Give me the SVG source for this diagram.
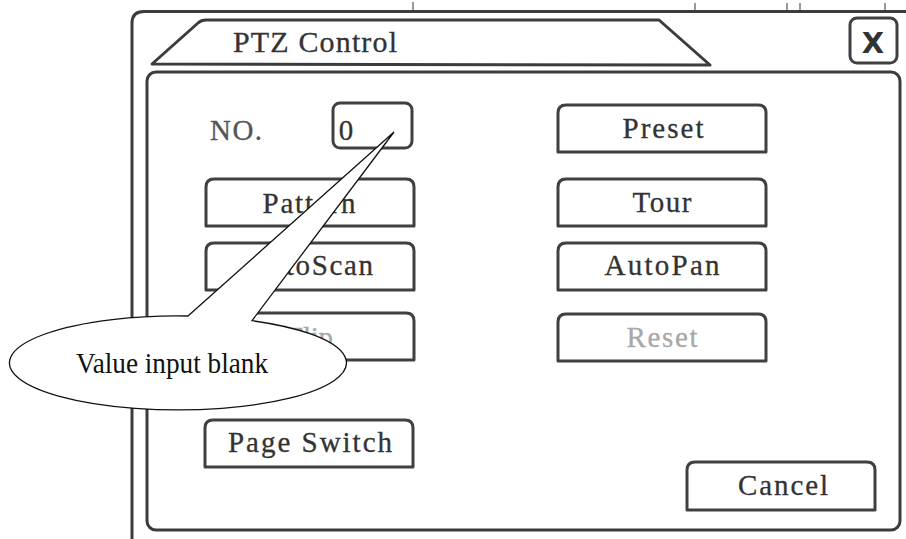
<svg xmlns="http://www.w3.org/2000/svg" width="906" height="539" viewBox="0 0 906 539">
<style>
.frame{fill:none;stroke:#3c3c3c;stroke-width:3;stroke-linejoin:round}
.btn{fill:#fff;stroke:#404040;stroke-width:3;stroke-linejoin:round}
.lbl{font-family:"Liberation Serif","Times New Roman",serif;font-size:29px;fill:#333;text-anchor:middle;stroke:#333;stroke-width:0.3}
.dis{fill:#a8a8a8;stroke:#a8a8a8}
.tick{stroke:#555;stroke-width:1.2}
.callout{fill:#fff;stroke:#111;stroke-width:1.3}
</style>
<defs>
<path id="btn" d="M0,47 V8 Q0,0 8,0 H200 Q208,0 208,8 V47 Z"/>
</defs>
<rect width="906" height="539" fill="#fff"/>

<g id="scan-marks">
<line class="tick" x1="413" y1="2" x2="413" y2="10"/>
<line class="tick" x1="695" y1="3" x2="695" y2="10"/>
<line class="tick" x1="787" y1="3" x2="787" y2="10"/>
<line class="tick" x1="800" y1="3" x2="800" y2="10"/>
<line class="tick" x1="885" y1="3" x2="885" y2="10"/>
</g>

<g id="window">
<path class="frame" d="M906,11.5 H144 Q132,11.5 132,23 V539"/>
<path class="frame" d="M152,64 L198,23 Q201,20 206,20 H659 L710,65 Z"/>
<text x="315" y="52" class="lbl" style="font-size:30px" textLength="164" lengthAdjust="spacing">PTZ Control</text>
</g>

<g id="close-button">
<rect class="btn" x="850" y="18" width="47" height="45" rx="7"/>
<text x="873" y="53" style="font-family:'DejaVu Sans',sans-serif;font-weight:bold;font-size:29px;fill:#333;text-anchor:middle">X</text>
</g>

<g id="panel">
<rect class="frame" x="147" y="72" width="753" height="458" rx="9"/>
</g>

<g id="no-field">
<text x="236" y="140" class="lbl" style="fill:#555;stroke:#555" textLength="52" lengthAdjust="spacing">NO.</text>
<rect class="btn" x="333" y="103" width="79" height="45" rx="7"/>
<text x="346" y="140" class="lbl">0</text>
</g>

<g id="btn-preset">
<use href="#btn" class="btn" x="558" y="105"/>
<text x="663" y="138" class="lbl" textLength="81" lengthAdjust="spacing">Preset</text>
</g>
<g id="btn-pattern">
<use href="#btn" class="btn" x="206" y="179"/>
<text x="309" y="213" class="lbl" textLength="93" lengthAdjust="spacing">Pattern</text>
</g>
<g id="btn-tour">
<use href="#btn" class="btn" x="558" y="179"/>
<text x="662" y="212" class="lbl" textLength="59" lengthAdjust="spacing">Tour</text>
</g>
<g id="btn-autoscan">
<use href="#btn" class="btn" x="206" y="243"/>
<text x="310" y="275" class="lbl" textLength="126" lengthAdjust="spacing">AutoScan</text>
</g>
<g id="btn-autopan">
<use href="#btn" class="btn" x="558" y="243"/>
<text x="662" y="275" class="lbl" textLength="115" lengthAdjust="spacing">AutoPan</text>
</g>
<g id="btn-flip">
<use href="#btn" class="btn" x="206" y="313"/>
<text x="310" y="347" class="lbl dis" textLength="46" lengthAdjust="spacing">Flip</text>
</g>
<g id="btn-reset">
<use href="#btn" class="btn" x="558" y="314"/>
<text x="662" y="347" class="lbl dis" textLength="71" lengthAdjust="spacing">Reset</text>
</g>
<g id="btn-page-switch">
<use href="#btn" class="btn" x="205" y="420"/>
<text x="310" y="452" class="lbl" textLength="164" lengthAdjust="spacing">Page Switch</text>
</g>
<g id="btn-cancel">
<path class="btn" d="M687,510 V470 Q687,462 695,462 H867 Q875,462 875,470 V510 Z"/>
<text x="783" y="495" class="lbl" textLength="90" lengthAdjust="spacing">Cancel</text>
</g>

<g id="connectors">
<path id="callout" class="callout" d="M188,316 L394,132 L252,320.7 A168.5,47 0 1 1 188,316 Z"/>
</g>
<g id="callout-label">
<text x="172" y="373" style="font-family:'Liberation Serif','Times New Roman',serif;font-size:29px;fill:#111;text-anchor:middle" textLength="192" lengthAdjust="spacingAndGlyphs">Value input blank</text>
</g>
</svg>
